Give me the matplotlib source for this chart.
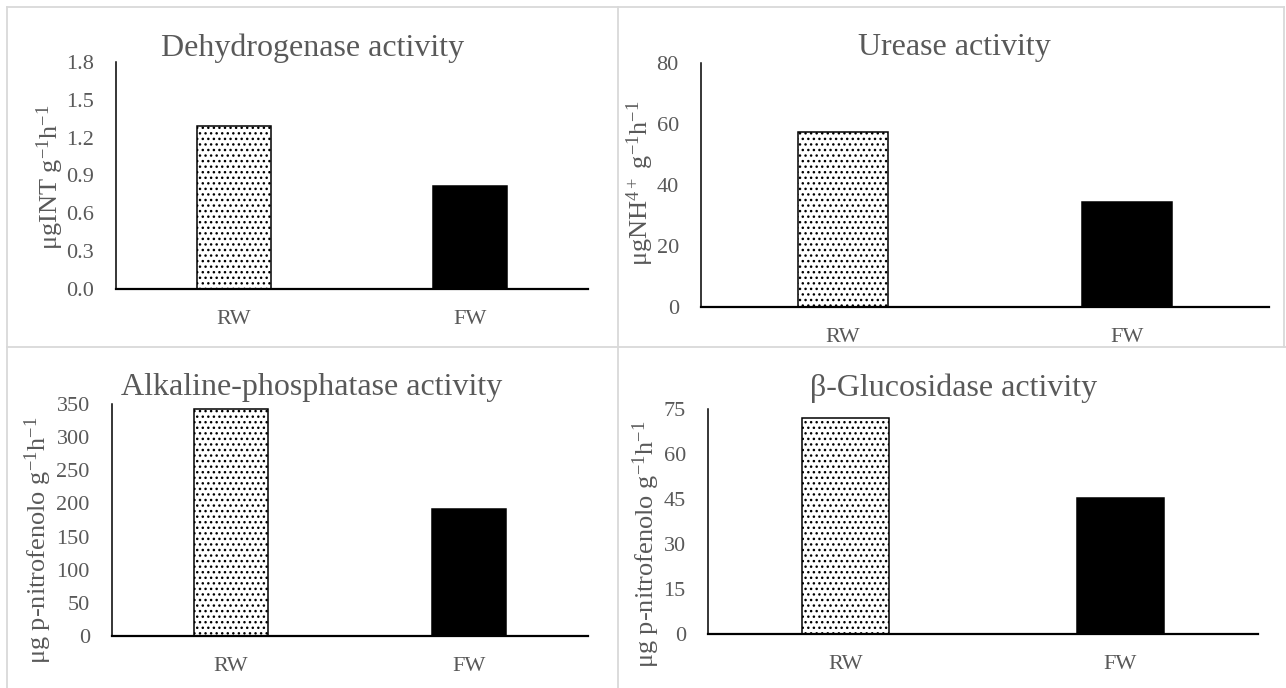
import matplotlib
matplotlib.use("Agg")
import matplotlib.pyplot as plt
from matplotlib.lines import Line2D

# -------------------- Data --------------------
categories = ['RW', 'FW']

dehydrogenase = [1.29, 0.817]
urease = [57.4, 34.5]
alk_phosphatase = [343, 191]
glucosidase = [71.9, 45.5]

dehydrogenase_ticks = [0.0, 0.3, 0.6, 0.9, 1.2, 1.5, 1.8]
urease_ticks = [0, 20, 40, 60, 80]
alk_ticks = [0, 50, 100, 150, 200, 250, 300, 350]
gluco_ticks = [0, 15, 30, 45, 60, 75]

titles = ['Dehydrogenase activity', 'Urease activity',
          'Alkaline-phosphatase activity', 'β-Glucosidase activity']
ylabels = ['μgINT g$^{-1}$h$^{-1}$',
           'μgNH$^{4+}$ g$^{-1}$h$^{-1}$',
           'μg p-nitrofenolo g$^{-1}$h$^{-1}$',
           'μg p-nitrofenolo g$^{-1}$h$^{-1}$']

# -------------------- Settings --------------------
W, H = 1286, 688
TEXT = '#595959'
plt.rcParams['font.family'] = ['Liberation Serif', 'DejaVu Serif']
plt.rcParams['mathtext.fontset'] = 'custom'
plt.rcParams['mathtext.rm'] = 'Liberation Serif'
plt.rcParams['mathtext.it'] = 'Liberation Serif:italic'
plt.rcParams['hatch.linewidth'] = 1.0

fig = plt.figure(figsize=(W / 100, H / 100), dpi=100)


def px_axes(x0, x1, ytop, ybot):
    """axes from pixel box (y measured from top)"""
    return fig.add_axes([x0 / W, 1 - ybot / H, (x1 - x0) / W, (ybot - ytop) / H])


def fmt_tick(v, decimals):
    return f"{v:.{decimals}f}"


panels = [
    # values, ticks, decimals, axes box, title pos, ylabel pos
    (dehydrogenase, dehydrogenase_ticks, 1, (116, 588, 62, 289), (313, 48), (50, 177)),
    (urease, urease_ticks, 0, (701, 1269, 63, 307), (954, 48), (640, 183)),
    (alk_phosphatase, alk_ticks, 0, (112, 588, 404, 636), (312, 388), (38, 540)),
    (glucosidase, gluco_ticks, 0, (708, 1258, 409, 634), (954, 388), (646, 544)),
]

for i, (vals, ticks, dec, box, tpos, ypos) in enumerate(panels):
    ax = px_axes(*box)
    ax.bar([0], vals[0], width=0.315, color='white', edgecolor='black',
           hatch='...', linewidth=1.1, zorder=2)
    ax.bar([1], vals[1], width=0.315, color='black', edgecolor='black',
           linewidth=1.1, zorder=2)
    ax.set_xlim(-0.5, 1.5)
    ax.set_ylim(0, ticks[-1])
    ax.set_xticks([0, 1])
    ax.set_xticklabels(categories)
    ax.set_yticks(ticks)
    ax.set_yticklabels([fmt_tick(t, dec) for t in ticks])
    ax.tick_params(axis='both', length=0, labelsize=16, colors=TEXT)
    ax.tick_params(axis='y', pad=16)
    ax.tick_params(axis='x', pad=15)
    for s in ['top', 'right']:
        ax.spines[s].set_visible(False)
    ax.spines['left'].set_linewidth(1.1)
    ax.spines['bottom'].set_linewidth(1.6)
    ax.spines['left'].set_zorder(3)
    ax.spines['bottom'].set_zorder(3)
    ax.patch.set_alpha(0)

    fig.text(tpos[0] / W, 1 - tpos[1] / H, titles[i], fontsize=23,
             color=TEXT, ha='center', va='center')
    fig.text(ypos[0] / W, 1 - ypos[1] / H, ylabels[i], fontsize=19,
             color=TEXT, ha='center', va='center', rotation=90)

# -------------------- Panel borders --------------------
border = dict(color='#d9d9d9', linewidth=1.3, transform=fig.transFigure, zorder=0)
segments = [
    ((7, 1284), (7, 7)),
    ((7, 1286), (347, 347)),
    ((7, 7), (7, 688)),
    ((618, 618), (7, 688)),
    ((1284, 1284), (7, 347)),
]
for xs, ys in segments:
    fig.add_artist(Line2D([x / W for x in xs], [1 - y / H for y in ys], **border))

fig.savefig('out.png', dpi=100)
